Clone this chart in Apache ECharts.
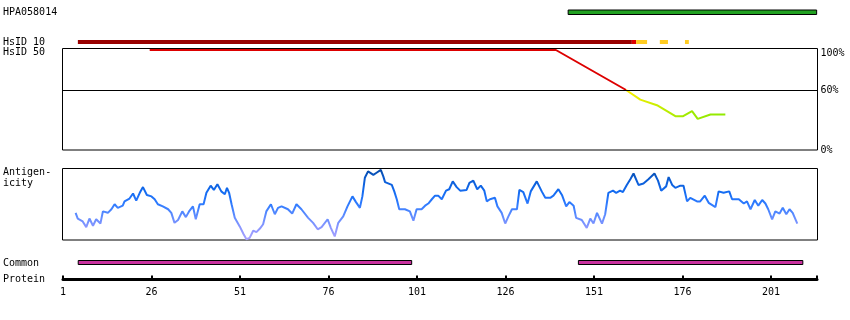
<!DOCTYPE html>
<html>
<head>
<meta charset="utf-8">
<script src="https://cdn.jsdelivr.net/npm/echarts@6/dist/echarts.min.js"></script>
<style>
  html, body { margin: 0; padding: 0; background: #fff; }
  #chart { width: 850px; height: 320px; }
</style>
</head>
<body>
<div id="chart"></div>
<script>
// ---------------- DATA ----------------
const proteinStart = 1;
const proteinEnd = 214;
const residueTickLabels = [1, 26, 51, 76, 101, 126, 151, 176, 201];
const residueTicks = [1, 26, 51, 76, 101, 126, 151, 176, 201, 214];

const trackLabels = ['HPA058014', 'HsID 10', 'HsID 50', 'Antigen-', 'icity', 'Common', 'Protein'];

// antigen (HPA058014) coverage, residue ranges [start, end]
const hpaRanges = [[143.7, 213.9]];

// HsID 10 coverage by identity class
const hsid10High = [[5.2, 161.7]];
const hsid10Mid = [[161.7, 162.9]];
const hsid10Low = [[162.9, 166.0], [169.6, 171.9], [176.7, 177.8]];

// HsID 50 identity curve (%), [residue, percent]
const hsid50Above = [[25.6, 100], [140.2, 100], [160, 60]];
const hsid50Below = [[160, 60], [164, 50.4], [168.7, 44.8], [173.9, 33.8], [176.1, 33.8],
                     [178.6, 38.8], [180.2, 31.1], [183.8, 35.5], [188, 35.5]];
const identityTickLabels = [0, 60, 100];

// Antigenicity profile
const antigenResidue = [
  4.7,5.3,6.7,7.7,8.6,9.6,10.5,11.7,12.4,13.8,14.8,15.7,16.6,18.0,18.5,19.9,20.9,21.8,22.8,23.7,
  24.8,26.1,27.0,27.9,29.3,30.8,31.7,32.6,33.6,34.8,35.8,36.7,37.8,38.6,39.7,40.8,41.6,42.8,43.7,44.7,
  45.8,46.8,47.4,48.0,48.7,49.6,51.0,52.1,52.9,53.8,54.8,55.7,56.7,
  57.6,58.5,59.8,60.9,61.8,62.8,64.6,65.8,67.0,68.4,70.3,71.7,73.0,74.1,75.8,76.7,77.8,78.8,80.2,81.4,
  82.8,83.8,84.9,85.6,86.3,87.2,88.7,89.6,90.8,91.5,92.0,93.9,94.6,95.3,96.0,97.6,99.0,100.0,100.9,102.3,
  103.3,104.2,105.2,106.1,107.0,108.0,
  109.2,110.1,111.1,112.2,113.2,115.0,115.8,116.9,118.0,119.0,120.0,120.7,121.6,123.0,123.7,124.9,125.9,126.8,127.8,129.2,
  129.9,131.0,132.2,133.1,134.8,136.2,137.2,138.6,139.5,140.9,141.9,143.1,144.0,145.2,145.9,147.5,148.9,149.9,150.8,151.8,
  153.2,154.1,155.0,156.3,157.2,158.3,159.1,160.2,161.2,
  162.1,163.5,164.9,166.3,168.0,169.0,169.9,171.3,172.0,173.0,173.9,175.3,176.2,177.2,178.1,180.0,180.9,182.2,183.3,185.2,
  186.1,187.5,189.1,189.9,191.8,193.2,194.1,195.1,196.3,197.3,198.4,199.3,200.1,201.2,202.1,203.3,204.2,205.2,206.1,207.0,208.3
];
const antigenValue = [
  0.38,0.30,0.26,0.18,0.30,0.20,0.29,0.23,0.40,0.38,0.43,0.50,0.45,0.48,0.54,0.58,0.65,0.55,0.66,0.74,
  0.63,0.61,0.57,0.50,0.47,0.43,0.38,0.24,0.28,0.40,0.32,0.40,0.47,0.29,0.50,0.50,0.66,0.76,0.70,0.78,
  0.68,0.64,0.73,0.66,0.50,0.31,0.19,0.08,0.01,0.03,0.13,0.11,0.16,
  0.22,0.40,0.50,0.36,0.45,0.47,0.43,0.37,0.50,0.43,0.31,0.24,0.15,0.18,0.29,0.17,0.05,0.24,0.33,0.47,
  0.61,0.53,0.45,0.61,0.87,0.96,0.91,0.94,0.98,0.89,0.81,0.77,0.68,0.57,0.43,0.43,0.40,0.27,0.43,0.43,
  0.48,0.51,0.57,0.62,0.62,0.57,
  0.69,0.71,0.82,0.74,0.69,0.70,0.80,0.83,0.71,0.76,0.69,0.54,0.57,0.59,0.47,0.38,0.23,0.33,0.43,0.43,
  0.70,0.67,0.51,0.68,0.82,0.68,0.59,0.59,0.62,0.71,0.63,0.47,0.53,0.48,0.31,0.28,0.17,0.30,0.23,0.38,
  0.23,0.36,0.66,0.69,0.66,0.69,0.67,0.77,0.85,
  0.93,0.77,0.79,0.85,0.93,0.83,0.69,0.75,0.88,0.77,0.73,0.76,0.76,0.54,0.59,0.54,0.54,0.62,0.52,0.46,
  0.68,0.66,0.68,0.57,0.57,0.51,0.54,0.43,0.56,0.48,0.56,0.51,0.43,0.29,0.40,0.37,0.45,0.36,0.43,0.38,0.23
];

// Common regions
const commonRanges = [[5.3, 99.5], [146.6, 210]];

// ---------------- CHART ----------------
const FONT = '"DejaVu Sans Mono", monospace';
const chart = echarts.init(document.getElementById('chart'), null, { renderer: 'canvas' });

const L = 63, W = 754;
const grids = [
  { left: L, width: W, top: 10, height: 4.5 },                     // 0 HPA
  { left: L, width: W, top: 40, height: 4 },                       // 1 HsID 10
  { left: L - 0.5, width: W + 1, top: 48.5, height: 101.5, show: true, borderColor: '#000', borderWidth: 1, backgroundColor: 'transparent' }, // 2 HsID 50
  { left: L - 0.5, width: W + 1, top: 168.5, height: 71.5, show: true, borderColor: '#000', borderWidth: 1, backgroundColor: 'transparent' },  // 3 Antigenicity
  { left: L, width: W, top: 260.5, height: 4 },                    // 4 Common
  { left: L, width: W, top: 279.5, height: 1 }                     // 5 Protein axis
];

function hiddenX(i) {
  return { type: 'value', gridIndex: i, min: proteinStart, max: proteinEnd, show: false };
}
function hiddenY(i, min, max) {
  return { type: 'value', gridIndex: i, min: min, max: max, show: false };
}

function rangeSeries(gridIdx, data, color, stroke) {
  return {
    type: 'custom',
    xAxisIndex: gridIdx, yAxisIndex: gridIdx,
    data: data,
    silent: true,
    renderItem: function (params, api) {
      const s = api.coord([api.value(0), 0]);
      const e = api.coord([api.value(1), 0]);
      const cs = params.coordSys;
      return {
        type: 'rect',
        shape: { x: s[0], y: cs.y, width: e[0] - s[0], height: cs.height },
        style: { fill: color, stroke: stroke || null, lineWidth: stroke ? 1 : 0 }
      };
    }
  };
}

const labelY = [12.5, 42.5, 52.5, 172.5, 183, 263, 279];
const graphic = trackLabels.map((t, i) => ({
  type: 'text',
  style: { text: t, x: 3, y: labelY[i], fill: '#000', font: '10px ' + FONT, verticalAlign: 'middle' },
  silent: true
}));

const option = {
  animation: false,
  backgroundColor: '#fff',
  grid: grids,
  graphic: graphic,
  xAxis: [
    hiddenX(0), hiddenX(1), hiddenX(2), hiddenX(3), hiddenX(4),
    {
      type: 'value', gridIndex: 5, min: proteinStart, max: proteinEnd, position: 'top',
      axisLine: { show: true, onZero: false, lineStyle: { color: '#000', width: 3 } },
      axisTick: { show: true, inside: false, length: 4, customValues: residueTicks, lineStyle: { color: '#000', width: 2 } },
      axisLabel: { show: false },
      splitLine: { show: false }
    },
    {
      type: 'value', gridIndex: 5, min: proteinStart, max: proteinEnd, position: 'bottom',
      axisLine: { show: false }, axisTick: { show: false }, splitLine: { show: false },
      axisLabel: { show: true, customValues: residueTickLabels, margin: 7, color: '#000', fontFamily: FONT, fontSize: 10 }
    }
  ],
  yAxis: [
    hiddenY(0, 0, 1), hiddenY(1, 0, 1),
    {
      type: 'value', gridIndex: 2, min: 0, max: 101.5, position: 'right',
      axisLine: { show: false }, axisTick: { show: false }, splitLine: { show: false },
      axisLabel: { show: true, customValues: identityTickLabels, margin: 3,
                   formatter: v => (v === 100 ? '{t|100%}' : v + '%'),
                   rich: { t: { padding: [6, 0, 0, 0], fontFamily: FONT, fontSize: 10, color: '#000' } },
                   color: '#000', fontFamily: FONT, fontSize: 10 }
    },
    hiddenY(3, 0, 1), hiddenY(4, 0, 1), hiddenY(5, 0, 1)
  ],
  visualMap: [{
    type: 'continuous', show: false, seriesIndex: 7, dimension: 1, min: 0, max: 1,
    inRange: { color: ['#aaa2ff', '#8c97ff', '#5f8cff', '#2f7bff', '#146cf2', '#0b5dd6', '#064aa6'] }
  }],
  series: [
    rangeSeries(0, hpaRanges, '#21a121', '#000'),        // 0
    rangeSeries(1, hsid10High, '#990000'),                // 1
    rangeSeries(1, hsid10Mid, '#dd0000'),                 // 2
    rangeSeries(1, hsid10Low, '#ffcc22'),                 // 3
    {                                                     // 4
      type: 'line', xAxisIndex: 2, yAxisIndex: 2, data: hsid50Above, symbol: 'none', silent: true,
      lineStyle: { color: '#dd0000', width: 2 },
      markLine: { silent: true, symbol: 'none', label: { show: false },
        lineStyle: { color: '#000', width: 1, type: 'solid' }, data: [{ yAxis: 60 }] }
    },
    {                                                     // 5
      type: 'line', xAxisIndex: 2, yAxisIndex: 2, data: hsid50Below, symbol: 'none', silent: true,
      lineStyle: { width: 2, color: new echarts.graphic.LinearGradient(0, 0, 1, 0, [
        { offset: 0, color: '#ffee00' }, { offset: 0.3, color: '#ccee00' }, { offset: 0.6, color: '#a0ea00' }, { offset: 1, color: '#90ea00' }
      ]) }
    },
    rangeSeries(4, commonRanges, '#c8309e', '#000'),      // 6
    {                                                     // 7 antigenicity
      type: 'line', xAxisIndex: 3, yAxisIndex: 3, symbol: 'none', silent: true,
      data: antigenResidue.map((r, i) => [r, antigenValue[i]]),
      lineStyle: { width: 2 }
    }
  ]
};

chart.setOption(option);
</script>
</body>
</html>
